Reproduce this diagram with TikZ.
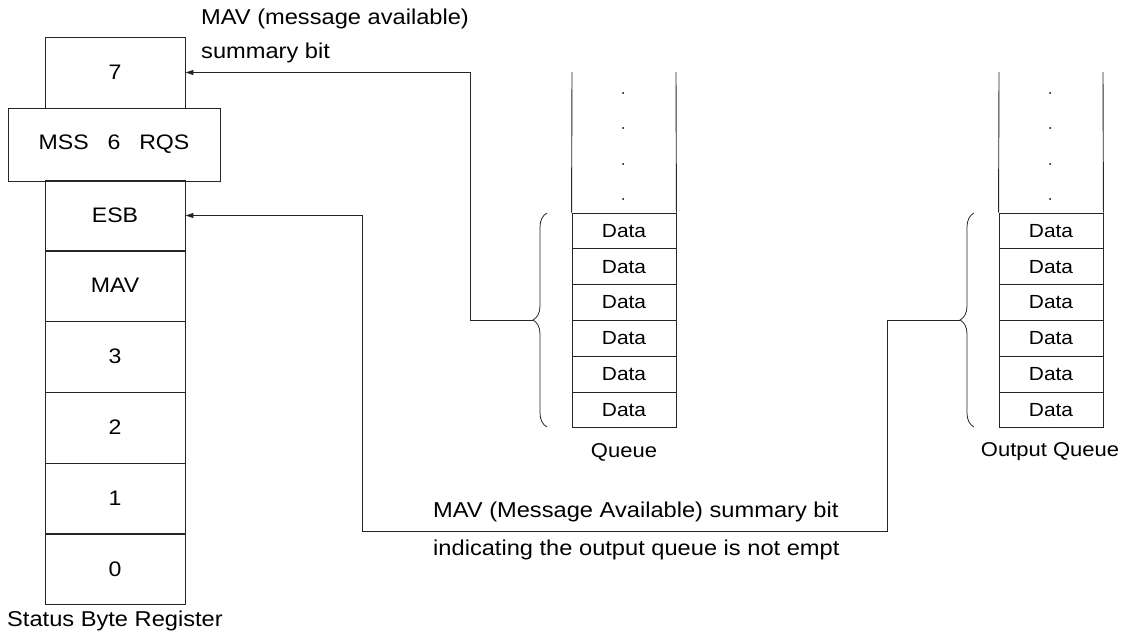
\documentclass[tikz,border=0pt]{standalone}
\usepackage{fontspec}
\setmainfont[FakeStretch=1.1]{Liberation Sans}
\usetikzlibrary{arrows.meta,decorations.pathreplacing}
\begin{document}
\begin{tikzpicture}[x=1pt,y=-1pt,
  every node/.style={font=\fontsize{21.5}{25}\selectfont},
  line/.style={draw=black!85,line width=0.9pt},
  regcell/.style={line,minimum width=140pt,minimum height=71pt,inner sep=0pt,anchor=center,font=\fontsize{21}{25}\selectfont},
  widecell/.style={regcell,minimum width=212pt,minimum height=73pt},
  datacell/.style={line,minimum width=104pt,minimum height=35.8pt,inner sep=0pt,anchor=center,font=\fontsize{19}{22}\selectfont},
  qlabel/.style={inner sep=0pt,font=\fontsize{20}{24}\selectfont},
  conn/.style={line,line width=0.8pt},
  arr/.style={conn,-{Triangle[length=8pt,width=5pt]}},
  bracedec/.style={line,line width=0.8pt,decorate,decoration={brace,amplitude=14pt}},
  lbl/.style={inner sep=0pt,anchor=west},
  dotn/.style={circle,fill=black,inner sep=0pt,minimum size=2pt}
]
\useasboundingbox (0,0) rectangle (1125,634);

% Status byte register
\node[regcell] (r7) at (115,72.5) {7};
\node[regcell] (resb) at (115,215.5) {ESB};
\node[regcell] (rmav) at (115,285.5) {MAV};
\node[regcell] (r3) at (115,356.5) {3};
\node[regcell] (r2) at (115,427.5) {2};
\node[regcell] (r1) at (115,498.5) {1};
\node[regcell] (r0) at (115,569) {0};
\node[widecell] (r6) at (114,144.5) {MSS\hspace{0.9em}6\hspace{0.9em}RQS};
\node[inner sep=0pt] (sbrlbl) at (115,621) {Status Byte Register};

% Queue
\foreach \i in {1,...,6} {
  \node[datacell] (q\i) at (624,{213+17.9+35.8*(\i-1)}) {Data};
}
\coordinate (qtl) at (572,72);
\coordinate (qtr) at (676,72);
\draw[line] (qtl) -- (q1.north west);
\draw[line] (qtr) -- (q1.north east);
\foreach \y [count=\k] in {93,128,164,199} \node[dotn] (qd\k) at (623,\y) {};
\node[qlabel] (qlbl) at (624,452) {Queue};

% Output queue
\foreach \i in {1,...,6} {
  \node[datacell] (o\i) at (1051,{213+17.9+35.8*(\i-1)}) {Data};
}
\coordinate (otl) at (999,72);
\coordinate (otr) at (1103,72);
\draw[line] (otl) -- (o1.north west);
\draw[line] (otr) -- (o1.north east);
\foreach \y [count=\k] in {93,128,164,199} \node[dotn] (od\k) at (1050,\y) {};
\node[qlabel] (olbl) at (1050,452) {Output Queue};

% Braces
\coordinate (b1bot) at (547,427);
\coordinate (b1top) at (547,213);
\coordinate (b1tip) at (533,320);
\draw[bracedec] (b1bot) -- (b1top);
\coordinate (b2bot) at (974,427);
\coordinate (b2top) at (974,213);
\coordinate (b2tip) at (960,320);
\draw[bracedec] (b2bot) -- (b2top);

% Connectors
\coordinate (c1) at (470,320);
\coordinate (c2) at (470,72.5);
\draw[arr] (b1tip) -- (c1) -- (c2) -- (r7.east);

\coordinate (d1) at (887,320);
\coordinate (d2) at (887,531);
\coordinate (d3) at (362,531);
\coordinate (d4) at (362,215.5);
\draw[arr] (b2tip) -- (d1) -- (d2) -- (d3) -- (d4) -- (resb.east);

% Labels
\node[lbl] (t1) at (201,19) {MAV (message available)};
\node[lbl] (t2) at (201,53) {summary bit};
\node[lbl] (t3) at (433,512) {MAV (Message Available) summary bit};
\node[lbl] (t4) at (433,550) {indicating the output queue is not empt};
\end{tikzpicture}
\end{document}
